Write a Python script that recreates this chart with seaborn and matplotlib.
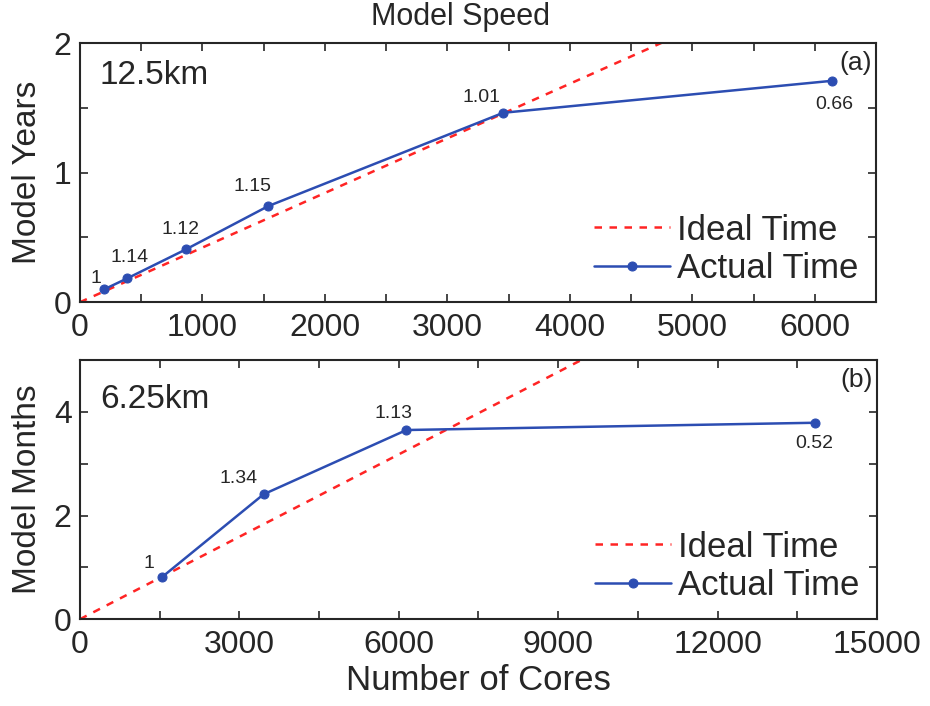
import numpy as np
import pandas as pd
import matplotlib
matplotlib.use('Agg')
import matplotlib.pyplot as plt
import seaborn as sns

# 12.5 km run
cores_a = [200, 384, 864, 1536, 3456, 6144]
years_a = [0.10, 0.183, 0.407, 0.741, 1.462, 1.709]
eff_a = ['1', '1.14', '1.12', '1.15', '1.01', '0.66']
ideal_cores_a = [0, 6500]
ideal_years_a = [0, 2.74]

# 6.25 km run
cores_b = [1536, 3456, 6144, 13824]
months_b = [0.805, 2.41, 3.65, 3.79]
eff_b = ['1', '1.34', '1.13', '0.52']
ideal_cores_b = [0, 15000]
ideal_months_b = [0, 7.95]

# label offsets in points (dx, dy)
off_a = [(-6, 8), (2, 15), (-4, 14), (-11, 14), (-16, 11), (1, -17)]
off_b = [(-9, 10), (-18, 11), (-9, 12), (0, -15)]

sns.set_style('ticks')
plt.rcParams['font.family'] = ['Liberation Sans', 'DejaVu Sans']
plt.rcParams['axes.linewidth'] = 1.5

blue = '#2c4db2'
red = '#ff2424'

fig = plt.figure(figsize=(9.3, 7.06), dpi=100)
ax1 = fig.add_axes([0.086, 0.572, 0.856, 0.367])
ax2 = fig.add_axes([0.086, 0.123, 0.857, 0.367])


def panel(ax, cores, vals, ideal_x, ideal_y, effs, offs):
    sns.lineplot(x=ideal_x, y=ideal_y, ax=ax, color=red, linestyle=(0, (3, 3)),
                 linewidth=1.8, label='Ideal Time')
    sns.lineplot(x=cores, y=vals, ax=ax, color=blue, linewidth=1.8,
                 marker='o', markersize=6.5, markeredgecolor=blue,
                 label='Actual Time')
    for x, y, s, (dx, dy) in zip(cores, vals, effs, offs):
        ax.annotate(s, (x, y), xytext=(dx, dy), textcoords='offset points',
                    ha='center', va='center', fontsize=14)
    ax.tick_params(direction='in', top=True, right=True, length=6,
                   width=1.2, labelsize=23, pad=6)
    ax.tick_params(axis='x', pad=8)
    ax.legend(loc='lower right', frameon=False, fontsize=25,
              handlelength=2.2, handletextpad=0.2, labelspacing=0.15,
              borderaxespad=0.1)


panel(ax1, cores_a, years_a, ideal_cores_a, ideal_years_a, eff_a, off_a)
panel(ax2, cores_b, months_b, ideal_cores_b, ideal_months_b, eff_b, off_b)

ax1.set_xlim(0, 6500)
ax1.set_ylim(0, 2)
xt = np.arange(0, 6501, 500)
ax1.set_xticks(xt)
ax1.set_xticklabels([str(v) if v % 1000 == 0 else '' for v in xt])
yt = np.arange(0, 2.01, 0.5)
ax1.set_yticks(yt)
ax1.set_yticklabels([f'{v:g}' if v % 1 == 0 else '' for v in yt])
ax1.set_ylabel('Model Years', fontsize=24, labelpad=8)
ax1.text(0.025, 0.876, '12.5km', transform=ax1.transAxes, fontsize=24,
         va='center')
ax1.text(0.995, 0.923, '(a)', transform=ax1.transAxes, fontsize=19,
         ha='right', va='center')

ax2.set_xlim(0, 15000)
ax2.set_ylim(0, 5)
xt = np.arange(0, 15001, 1500)
ax2.set_xticks(xt)
ax2.set_xticklabels([str(v) if v % 3000 == 0 else '' for v in xt])
yt = np.arange(0, 5.01, 1)
ax2.set_yticks(yt)
ax2.set_yticklabels([f'{v:g}' if v % 2 == 0 else '' for v in yt])
ax2.set_ylabel('Model Months', fontsize=24, labelpad=8)
ax2.set_xlabel('Number of Cores', fontsize=25, labelpad=3)
ax2.text(0.025, 0.846, '6.25km', transform=ax2.transAxes, fontsize=24,
         va='center')
ax2.text(0.995, 0.923, '(b)', transform=ax2.transAxes, fontsize=19,
         ha='right', va='center')

fig.text(0.495, 1 - 25 / 706, 'Model Speed', fontsize=22, ha='center',
         va='baseline')

fig.savefig('out.png', dpi=100)
